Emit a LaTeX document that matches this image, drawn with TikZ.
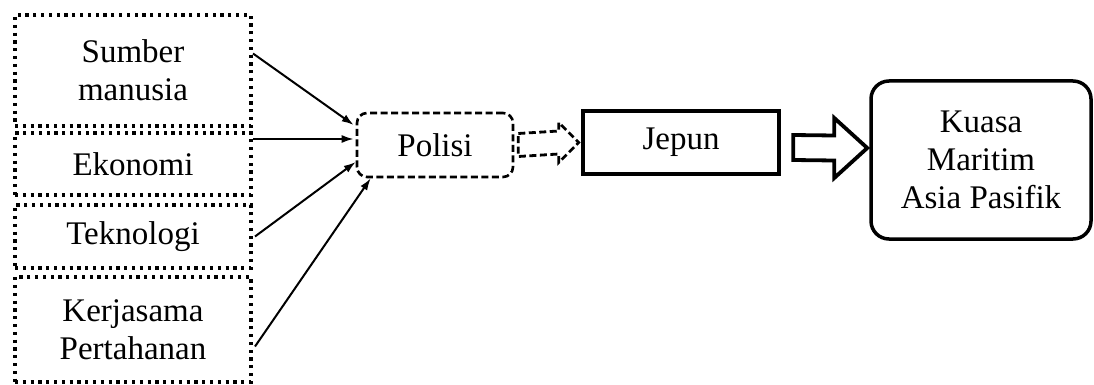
\documentclass[tikz,border=0pt]{standalone}
\usepackage{fontspec}
\setmainfont{Liberation Serif}
\usetikzlibrary{arrows.meta,calc}
\tikzset{
  base/.style={inner sep=0pt,align=center,font=\fontsize{33}{38}\selectfont},
  dotbox/.style={base,draw,line width=4pt,dash pattern=on 3.2pt off 4.6pt,minimum width=236pt},
  polbox/.style={base,draw,line width=2.6pt,dash pattern=on 7pt off 3.5pt,rounded corners=10pt,minimum width=156pt,minimum height=64pt},
  jepbox/.style={base,draw,line width=4.5pt,minimum width=196pt,minimum height=63pt},
  kuabox/.style={base,draw,line width=3.5pt,rounded corners=18pt,minimum width=220pt,minimum height=158pt},
  thinarrow/.style={line width=2pt,-{Latex[length=12pt,width=8pt]}},
  hollow/.style={line width=3.8pt,line join=miter},
  dhollow/.style={line width=2.8pt,dash pattern=on 7pt off 3.5pt,line join=miter}
}
\begin{document}
\begin{tikzpicture}[x=1pt,y=-1pt]
\useasboundingbox (0,0) rectangle (1094,385);
\node[dotbox,minimum height=111pt] (s1) at (133,70.5) {Sumber\\manusia};
\node[dotbox,minimum height=62pt] (s2) at (133,164) {Ekonomi};
\node[dotbox,minimum height=63pt] (s3) at (133,236.5) {Teknologi};
\node[dotbox,minimum height=105pt] (s4) at (133,329.5) {Kerjasama\\Pertahanan};
\node[polbox] (p) at (435,145) {Polisi};
\node[jepbox] (j) at (681,142.5) {Jepun};
\node[kuabox] (k) at (981,160) {Kuasa\\Maritim\\Asia Pasifik};
\draw[thinarrow] ([yshift=17pt]s1.east) -- ([yshift=20pt,xshift=-2pt]p.west);
\draw[thinarrow] ([yshift=25pt]s2.east) -- ([yshift=6pt,xshift=-2pt]p.west);
\draw[thinarrow] ([xshift=2pt]s3.east) -- ([yshift=-17pt]p.west);
\draw[thinarrow] ([yshift=-17pt,xshift=2pt]s4.east) -- ([xshift=15pt]p.south west);
% dashed hollow arrow
\coordinate (da) at ([xshift=4pt]p.east);
\coordinate (db) at ([xshift=-2pt]j.west);
\draw[dhollow] ($(da)+(0,-11.5)$) -- ($(db)+(-20,-11.5)$) -- ($(db)+(-20,-20)$) -- (db)
  -- ($(db)+(-20,20)$) -- ($(db)+(-20,11.5)$) -- ($(da)+(0,11.5)$) -- cycle;
% solid hollow arrow
\coordinate (ha) at ([xshift=12pt,yshift=-5pt]j.east);
\coordinate (hb) at ([xshift=-2pt,yshift=12pt]k.west);
\draw[hollow] ($(ha)+(0,-12.5)$) -- ($(hb)+(-33,-12.5)$) -- ($(hb)+(-33,-30)$) -- (hb)
  -- ($(hb)+(-33,30)$) -- ($(hb)+(-33,12.5)$) -- ($(ha)+(0,12.5)$) -- cycle;
\end{tikzpicture}
\end{document}
